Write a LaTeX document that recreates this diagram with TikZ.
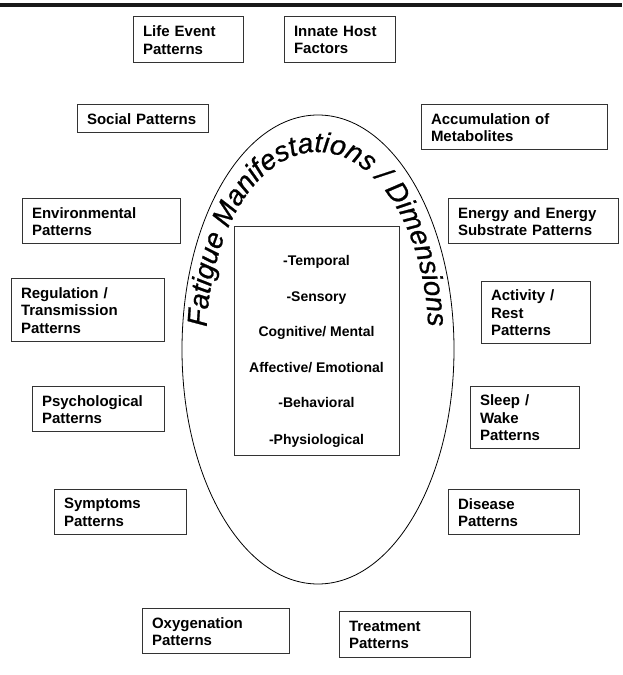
\documentclass[tikz,border=0pt]{standalone}
\usepackage{fontspec}
\setmainfont{Liberation Sans}
\newfontfamily\curvfam[FakeBold=0.8]{Liberation Sans}
\usetikzlibrary{decorations.text,shapes.geometric}
\newcommand\curvfont{\curvfam\itshape\fontsize{28}{30}\selectfont}
\begin{document}
\begin{tikzpicture}[x=1pt,y=1pt,
  box/.style={draw=black!80, line width=1pt, inner xsep=10pt, inner ysep=0pt, align=left,
    font=\bfseries\fontsize{15}{17.5}\selectfont, anchor=center},
  dim/.style={font=\bfseries\fontsize{14}{16}\selectfont, anchor=base, inner sep=0pt}]
\useasboundingbox (0,0) rectangle (622,675);
% top rule
\coordinate (rl) at (0,669.7);
\coordinate (rr) at (622,669.7);
\draw[line width=4pt, black!90] (rl) -- (rr);
% ellipse
\node[draw, line width=0.8pt, ellipse, minimum width=272pt, minimum height=469pt, inner sep=0pt] (ell) at (318,325.5) {};
% boxes
\node[box, text width=90pt, minimum height=46pt] (b1) at (188,635) {Life Event\\Patterns};
\node[box, text width=91pt, minimum height=46pt] (b2) at (339.5,635) {Innate Host\\Factors};
\node[box, text width=111pt, minimum height=28pt] (b3) at (142.5,556) {Social Patterns};
\node[box, text width=166pt, minimum height=45pt] (b4) at (514,547.5) {Accumulation of\\Metabolites};
\node[box, text width=138pt, minimum height=45pt] (b5) at (101,453.5) {Environmental\\Patterns};
\node[box, text width=133pt, minimum height=63pt] (b6) at (87.5,364.5) {Regulation /\\Transmission\\Patterns};
\node[box, text width=112pt, minimum height=45pt] (b7) at (98,265.5) {Psychological\\Patterns};
\node[box, text width=150pt, minimum height=45pt] (b8) at (533,453.5) {Energy and Energy\\Substrate Patterns};
\node[box, text width=89pt, minimum height=62pt] (b9) at (535.5,362) {Activity /\\Rest\\Patterns};
\node[box, text width=89pt, minimum height=62pt] (b10) at (524.5,257) {Sleep /\\Wake\\Patterns};
\node[box, text width=112pt, minimum height=45pt] (b11) at (120,162.5) {Symptoms\\Patterns};
\node[box, text width=111pt, minimum height=45pt] (b12) at (513.5,162.5) {Disease\\Patterns};
\node[box, text width=127pt, minimum height=45pt] (b13) at (215.5,43.5) {Oxygenation\\Patterns};
\node[box, text width=111pt, minimum height=46pt] (b14) at (404.5,40) {Treatment\\Patterns};
% centre box
\node[draw=black!80, line width=1pt, minimum width=165pt, minimum height=229pt, inner sep=0pt] (cbox) at (316.5,333.5) {};
\node[dim] (t1) at (316.5,409) {-Temporal};
\node[dim] (t2) at (316.5,373.5) {-Sensory};
\node[dim] (t3) at (316.5,338) {Cognitive/ Mental};
\node[dim] (t4) at (316.5,302.5) {Affective/ Emotional};
\node[dim] (t5) at (316.5,267) {-Behavioral};
\node[dim] (t6) at (316.5,230.5) {-Physiological};
% curved title
\path[decorate, decoration={text along path,
    text={|\curvfont|Fatigue Manifestations / Dimensions},
    text align=center}]
  [shift={(317.5,335)}] (185:111 and 188) arc[start angle=185, end angle=-5, x radius=111, y radius=188];
\end{tikzpicture}
\end{document}
